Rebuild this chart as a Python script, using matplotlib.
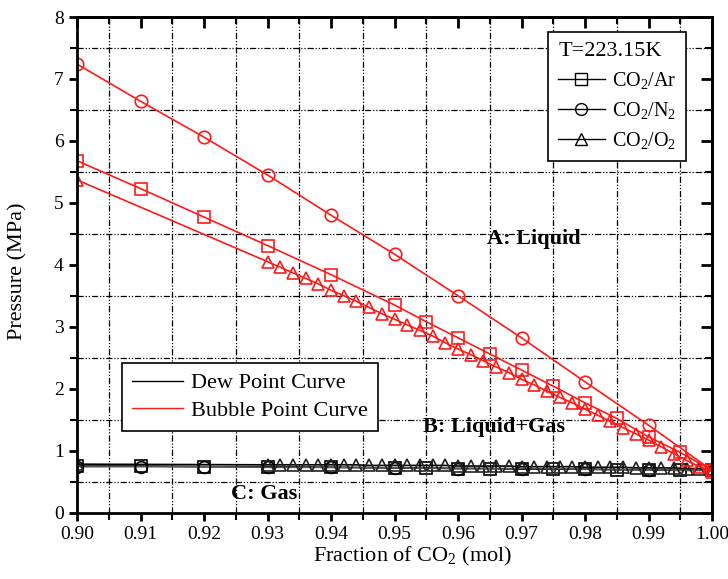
import matplotlib
matplotlib.use("Agg")
import matplotlib.pyplot as plt
from matplotlib.lines import Line2D
from matplotlib.ticker import MultipleLocator, FormatStrFormatter

plt.rcParams['font.family'] = ['Liberation Serif', 'DejaVu Serif']
plt.rcParams['mathtext.fontset'] = 'custom'
plt.rcParams['mathtext.rm'] = 'Liberation Serif'
plt.rcParams['mathtext.it'] = 'Liberation Serif:italic'

# CO2/Ar
x_ar = [0.90, 0.91, 0.92, 0.93, 0.94, 0.95, 0.955, 0.96, 0.965, 0.97,
        0.975, 0.98, 0.985, 0.99, 0.995, 1.00]
bub_ar = [5.68, 5.23, 4.77, 4.31, 3.84, 3.35, 3.08, 2.82, 2.56, 2.30,
          2.04, 1.77, 1.52, 1.22, 0.97, 0.68]
dew_ar = [0.75, 0.75, 0.74, 0.74, 0.73, 0.72, 0.72, 0.71, 0.71, 0.70,
          0.70, 0.70, 0.69, 0.69, 0.68, 0.68]

# CO2/N2
x_n2 = [0.90, 0.91, 0.92, 0.93, 0.94, 0.95, 0.96, 0.97, 0.98, 0.99, 1.00]
bub_n2 = [7.24, 6.64, 6.06, 5.45, 4.80, 4.17, 3.50, 2.82, 2.11, 1.41, 0.68]
dew_n2 = [0.74, 0.74, 0.74, 0.73, 0.73, 0.72, 0.71, 0.71, 0.70, 0.69, 0.68]

# CO2/O2
x_o2 = [0.90,
        0.930, 0.932, 0.934, 0.936, 0.938, 0.940, 0.942, 0.944, 0.946, 0.948,
        0.950, 0.952, 0.954, 0.956, 0.958, 0.960, 0.962, 0.964, 0.966, 0.968,
        0.970, 0.972, 0.974, 0.976, 0.978, 0.980, 0.982, 0.984, 0.986, 0.988,
        0.990, 0.992, 0.994, 0.996, 0.998, 1.000]
bub_o2 = [5.37,
          4.05, 3.96, 3.87, 3.78, 3.69, 3.59, 3.50, 3.41, 3.31, 3.21,
          3.12, 3.03, 2.94, 2.85, 2.74, 2.64, 2.55, 2.45, 2.35, 2.26,
          2.15, 2.06, 1.96, 1.86, 1.77, 1.67, 1.57, 1.47, 1.37, 1.27,
          1.17, 1.06, 0.95, 0.84, 0.74, 0.66]
dew_o2 = [0.78,
          0.77, 0.77, 0.77, 0.77, 0.77, 0.77, 0.77, 0.77, 0.76, 0.76,
          0.76, 0.76, 0.76, 0.76, 0.76, 0.75, 0.75, 0.75, 0.75, 0.75,
          0.74, 0.74, 0.74, 0.74, 0.74, 0.73, 0.73, 0.73, 0.73, 0.72,
          0.72, 0.72, 0.72, 0.71, 0.71, 0.70]

x_ticks = [0.90, 0.91, 0.92, 0.93, 0.94, 0.95, 0.96, 0.97, 0.98, 0.99, 1.00]
y_ticks = [0, 1, 2, 3, 4, 5, 6, 7, 8]

RED = '#ff1a1a'
mk = dict(mfc='none', mew=1.2, lw=1.2)

fig = plt.figure(figsize=(7.28, 5.79), dpi=100)
ax = fig.add_axes([77 / 728, 1 - 512.5 / 579, 635 / 728, 495.5 / 579])

# dew point curves (black)
ax.plot(x_ar, dew_ar, color='k', marker='s', ms=8, mec='k', **mk)
ax.plot(x_n2, dew_n2, color='#555555', marker='o', ms=8.5, mec='k', **mk)
ax.plot(x_o2, dew_o2, color='k', marker='^', ms=8.5, mec='#222222', **mk)

# bubble point curves (red)
ax.plot(x_ar, bub_ar, color=RED, marker='s', ms=8, mec=RED, **mk)
ax.plot(x_n2, bub_n2, color=RED, marker='o', ms=9, mec=RED, **mk)
ax.plot(x_o2, bub_o2, color=RED, marker='^', ms=9, mec=RED, **mk)

ax.set_xlim(0.90, 1.00)
ax.set_ylim(0, 8)
ax.set_xticks(x_ticks)
ax.set_yticks(y_ticks)
ax.xaxis.set_major_formatter(FormatStrFormatter('%.2f'))
ax.xaxis.set_minor_locator(MultipleLocator(0.005))
ax.yaxis.set_minor_locator(MultipleLocator(0.5))

ax.tick_params(which='both', direction='out', top=False, right=False,
               labelsize=14)
ax.tick_params(which='major', length=6, width=2)
ax.tick_params(which='minor', length=5, width=1.5)

# grid on the half-step positions
ax.grid(which='minor', color='k', lw=0.9, linestyle=(0, (5, 1.5, 1, 1.5, 1, 1.5)))
ax.grid(which='major', visible=False)

for s in ax.spines.values():
    s.set_linewidth(2)

# inward ticks on top and right
top = ax.secondary_xaxis('top')
top.set_xticks(x_ticks)
top.xaxis.set_minor_locator(MultipleLocator(0.005))
top.tick_params(which='both', direction='in', labeltop=False)
top.tick_params(which='major', length=8, width=2)
top.tick_params(which='minor', length=5, width=1.5)
top.spines['top'].set_linewidth(2)

right = ax.secondary_yaxis('right')
right.set_yticks(y_ticks)
right.yaxis.set_minor_locator(MultipleLocator(0.5))
right.tick_params(which='both', direction='in', labelright=False)
right.tick_params(which='major', length=8, width=2)
right.tick_params(which='minor', length=5, width=1.5)
right.spines['right'].set_linewidth(2)

ax.set_xlabel('Fraction of CO$_2$ (mol)', fontsize=16)
ax.xaxis.set_label_coords(0.528, -0.066)
ax.set_ylabel('Pressure (MPa)', fontsize=16)
ax.yaxis.set_label_coords(-0.078, 0.487)

# region labels
ax.text(0.9646, 4.41, 'A: Liquid', fontsize=16, fontweight='bold', va='center')
ax.text(0.9545, 1.38, 'B: Liquid+Gas', fontsize=16, fontweight='bold', va='center')
ax.text(0.9243, 0.30, 'C: Gas', fontsize=16, fontweight='bold', va='center')

# mixture legend
mix_handles = [
    Line2D([], [], color='k', marker='s', ms=8, mfc='none', mec='k', lw=1),
    Line2D([], [], color='k', marker='o', ms=8.5, mfc='none', mec='k', lw=1),
    Line2D([], [], color='k', marker='^', ms=9, mfc='none', mec='k', lw=1),
]
leg1 = ax.legend(mix_handles, ['CO$_2$/Ar', 'CO$_2$/N$_2$', 'CO$_2$/O$_2$'],
                 title='T=223.15K', title_fontsize=16, alignment='left',
                 loc='upper right', bbox_to_anchor=(0.959, 0.970),
                 fontsize=14.5, frameon=True, fancybox=False, framealpha=1,
                 edgecolor='k', borderaxespad=0, handlelength=2.3,
                 handletextpad=0.35, labelspacing=0.45, borderpad=0.5,
                 numpoints=1)
leg1.get_frame().set_linewidth(1.2)
ax.add_artist(leg1)

# curve-type legend
type_handles = [
    Line2D([], [], color='k', lw=1),
    Line2D([], [], color=RED, lw=1),
]
leg2 = ax.legend(type_handles, ['Dew Point Curve', 'Bubble Point Curve'],
                 loc='upper left', bbox_to_anchor=(0.071, 0.302),
                 fontsize=16, frameon=True, fancybox=False, framealpha=1,
                 edgecolor='k', borderaxespad=0, handlelength=2.3,
                 handletextpad=0.35, labelspacing=0.3, borderpad=0.45)
leg2.get_frame().set_linewidth(1.2)

fig.savefig('out.png', dpi=100)
